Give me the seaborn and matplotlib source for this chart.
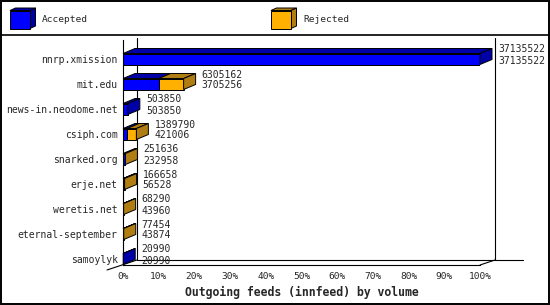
import matplotlib
matplotlib.use("Agg")
import matplotlib.pyplot as plt
import matplotlib.transforms as mtransforms
from matplotlib.patches import Polygon, Rectangle
from matplotlib.lines import Line2D
import seaborn as sns
import pandas as pd

# ---- data ----
hosts = ["nnrp.xmission", "mit.edu", "news-in.neodome.net", "csiph.com",
         "snarked.org", "erje.net", "weretis.net", "eternal-september", "samoylyk"]
offered = [37135522, 6305162, 503850, 1389790, 251636, 166658, 68290, 77454, 20990]
accepted = [37135522, 3705256, 503850, 421006, 232958, 56528, 43960, 43874, 20990]
series_names = ["Accepted", "Rejected"]
xtick_values = [0, 10, 20, 30, 40, 50, 60, 70, 80, 90, 100]
xtick_labels = ["0%", "10%", "20%", "30%", "40%", "50%", "60%", "70%", "80%", "90%", "100%"]
xlabel = "Outgoing feeds (innfeed) by volume"

BLUE, BLUE_D = "#0000ff", "#0000a8"
ORANGE, ORANGE_D = "#ffb000", "#b07d12"
FONT = "DejaVu Sans Mono"

mx = max(offered)
df = pd.DataFrame({
    "host": hosts,
    "total_pct": [v / mx * 100 for v in offered],
    "acc_pct": [v / mx * 100 for v in accepted],
})

W, H = 550, 305
sns.set_style("white")
plt.rcParams["font.family"] = [FONT]
fig = plt.figure(figsize=(W / 100, H / 100), dpi=100)
fig.patch.set_facecolor("white")

# pixel transform (x right, y down from top)
px = mtransforms.Affine2D().scale(1 / W, -1 / H).translate(0, 1) + fig.transFigure

# background axes for back wall lines
bg = fig.add_axes([0, 0, 1, 1], zorder=0)
bg.set_axis_off()

# main axes: 0%..100% -> x 123..480 px ; bottom at y=265, top at 40
left, right, top, bottom = 123, 480, 40, 265
ax = fig.add_axes([left / W, (H - bottom) / H, (right - left) / W, (bottom - top) / H], zorder=1)
ax.patch.set_alpha(0)

bar_w = 0.44
sns.barplot(data=df, x="total_pct", y="host", color=ORANGE, width=bar_w, ax=ax,
            saturation=1, edgecolor="black", linewidth=0.7, orient="h")
sns.barplot(data=df, x="acc_pct", y="host", color=BLUE, width=bar_w, ax=ax,
            saturation=1, edgecolor="black", linewidth=0.7, orient="h")
n = len(hosts)
row_c0, row_step = 59, 25
ax.set_ylim((bottom - row_c0) / row_step, (top - row_c0) / row_step)
ax.set_xlim(0, 100)
ax.set_xticks(xtick_values)
ax.set_xticklabels(xtick_labels, fontsize=6.8, family=FONT)
ax.set_xlabel(xlabel, fontsize=8.3, fontweight="bold", family=FONT, labelpad=4)
ax.set_ylabel("")
ax.tick_params(axis="x", length=2.3, width=0.8, pad=2.5, color="black", direction="out")
ax.tick_params(axis="y", length=0, pad=3.8, labelsize=7)
for lab in ax.get_yticklabels():
    lab.set_family(FONT)
for s in ["top", "right"]:
    ax.spines[s].set_visible(False)
for s in ["left", "bottom"]:
    ax.spines[s].set_color("black")
    ax.spines[s].set_linewidth(0.8)

# back wall lines
lw = 0.8
for (x0, y0, x1, y1) in [(137, 38, 137, 260), (137, 260, 523, 260), (495, 38, 495, 260),
                         (480, 265, 495, 260), (107, 270, 137, 260)]:
    bg.add_line(Line2D([x0, x1], [y0, y1], transform=px, color="black", lw=lw))

fig.canvas.draw()

# 3D faces from seaborn's bars
dx, dy = 12, 5
tot_patches = ax.patches[:n]
acc_patches = ax.patches[n:2 * n]


def to_px(xd, yd):
    d = ax.transData.transform((xd, yd))
    return d[0], H - d[1]


for i in range(n):
    tp, ap = tot_patches[i], acc_patches[i]
    x0, yt = to_px(tp.get_x(), tp.get_y())
    xt, yb = to_px(tp.get_x() + tp.get_width(), tp.get_y() + tp.get_height())
    xa, _ = to_px(ap.get_x() + ap.get_width(), ap.get_y())
    if yt > yb:
        yt, yb = yb, yt
    faces = [([(x0, yt), (x0 + dx, yt - dy), (xa + dx, yt - dy), (xa, yt)], BLUE_D)]
    if xt > xa + 0.01:
        faces.append(([(xa, yt), (xa + dx, yt - dy), (xt + dx, yt - dy), (xt, yt)], ORANGE_D))
        side_c = ORANGE_D
    else:
        side_c = BLUE_D
    faces.append(([(xt, yt), (xt + dx, yt - dy), (xt + dx, yb - dy), (xt, yb)], side_c))
    for pts, c in faces:
        ax.add_patch(Polygon(pts, closed=True, transform=px, facecolor=c,
                             edgecolor="black", lw=0.7, clip_on=False, zorder=3))
    yc = (yt + yb) / 2
    tx = xt + dx + 6
    ax.text(tx, yc - 9.5, str(offered[i]), transform=px, fontsize=7, family=FONT,
            va="center", ha="left", zorder=4)
    ax.text(tx, yc + 1.5, str(accepted[i]), transform=px, fontsize=7, family=FONT,
            va="center", ha="left", zorder=4)

# legend
def cube(x, y, w, h, d, dyy, fc, dc):
    bg.add_patch(Polygon([(x, y), (x + d, y - dyy), (x + w + d, y - dyy), (x + w, y)],
                         transform=px, facecolor=dc, edgecolor="black", lw=0.7))
    bg.add_patch(Polygon([(x + w, y), (x + w + d, y - dyy), (x + w + d, y + h - dyy), (x + w, y + h)],
                         transform=px, facecolor=dc, edgecolor="black", lw=0.7))
    bg.add_patch(Rectangle((x, y), w, h, transform=px, facecolor=fc, edgecolor="black", lw=0.7))


cube(10, 10.5, 20, 18, 5.5, 2.5, BLUE, BLUE_D)
bg.text(42, 20, series_names[0], transform=px, fontsize=6.8, family=FONT, va="center")
cube(271, 10.5, 20, 18, 5.5, 2.5, ORANGE, ORANGE_D)
bg.text(303, 20, series_names[1], transform=px, fontsize=6.8, family=FONT, va="center")

# frame lines
bg.add_line(Line2D([0, W], [35, 35], transform=px, color="black", lw=1.2))
bg.add_patch(Rectangle((0.7, 0.7), W - 1.4, H - 1.4, transform=px, fill=False,
                       edgecolor="black", lw=1.4))

fig.savefig("out.png", dpi=100)
